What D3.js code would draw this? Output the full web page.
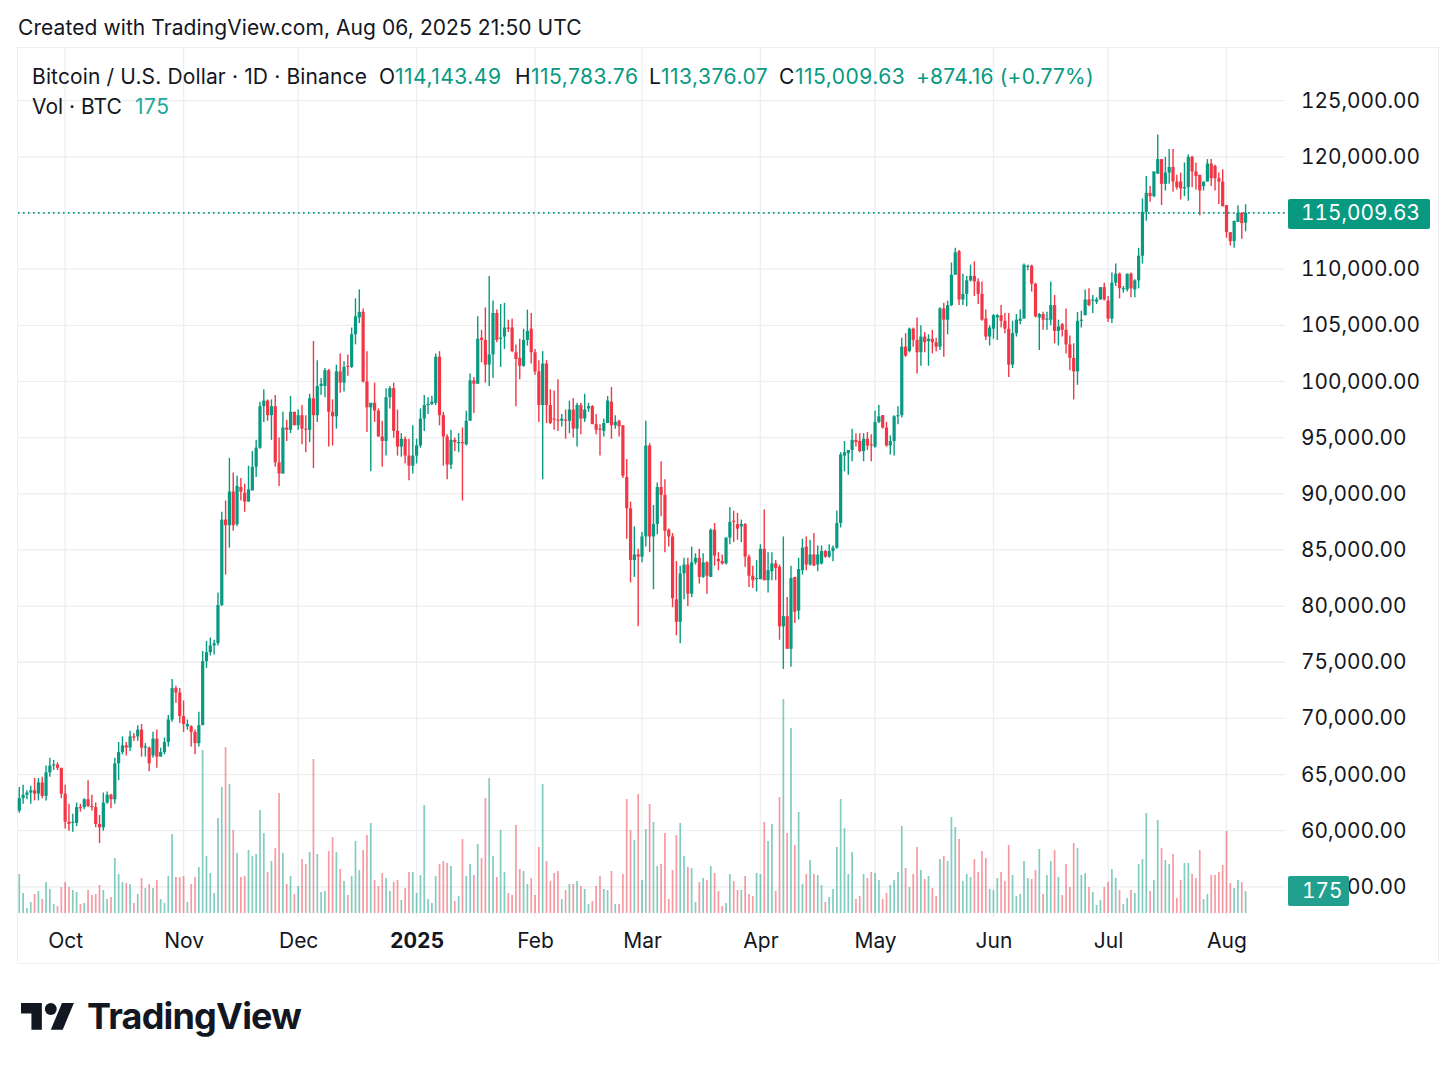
<!DOCTYPE html>
<html><head><meta charset="utf-8">
<style>html,body{margin:0;padding:0;background:#fff}svg{display:block}text{font-family:Inter,"Noto Sans",sans-serif;fill:#131722}</style>
<script src="https://cdn.jsdelivr.net/npm/d3@7/dist/d3.min.js"></script>
</head><body><svg id="c" width="1456" height="1070"></svg>
<script>
const startDate = "2024-09-19";
const endDate = "2025-08-06";
// open, high, low, close in thousands of USD, one row per day from startDate
const candles = [
[61.8,63.9,61.6,62.9],[62.9,64.1,62.4,63.2],[63.2,63.6,62.8,63.4],[63.4,64.0,62.4,63.6],[63.6,64.7,62.7,63.3],[63.3,64.7,62.7,64.3],[64.3,64.8,62.9,63.1],[63.1,65.8,62.7,65.2],[65.2,66.5,64.8,65.8],[65.8,66.3,65.4,65.9],
[65.9,66.1,65.4,65.6],[65.6,65.6,62.9,63.3],[63.3,64.1,60.2,60.8],[60.8,62.4,60.0,60.6],[60.7,61.5,59.9,60.8],[60.7,62.5,60.4,62.1],[62.1,62.4,61.7,62.0],[62.1,62.9,61.9,62.8],[62.8,64.5,62.1,62.2],[62.2,63.2,61.8,62.1],
[62.1,62.5,60.3,60.6],[60.6,61.4,58.9,60.3],[60.3,63.4,60.0,62.5],[62.5,63.5,62.4,63.2],[63.2,63.3,62.0,62.8],[62.8,66.5,62.4,66.0],[66.0,67.9,64.5,67.0],[67.0,68.4,66.8,67.6],[67.6,67.9,66.7,67.4],[67.4,68.9,67.1,68.4],
[68.4,68.7,68.0,68.3],[68.4,69.4,68.0,69.0],[69.0,69.5,66.6,67.4],[67.4,67.8,66.6,67.5],[67.4,67.5,65.3,66.0],[66.7,68.8,66.5,68.2],[68.2,69.0,65.6,66.6],[66.6,67.4,66.6,67.0],[67.0,68.3,66.8,67.9],[67.9,70.3,67.5,69.9],
[69.9,73.5,69.7,72.7],[72.7,72.9,71.4,72.3],[72.3,72.7,69.6,70.2],[70.2,71.6,68.8,69.5],[69.3,69.9,69.0,69.5],[69.3,69.4,67.5,68.8],[68.8,69.0,66.8,67.8],[67.8,70.6,67.5,69.4],[69.4,76.0,69.4,75.1],[75.1,76.9,74.5,75.9],
[75.9,77.2,75.6,76.5],[76.5,77.0,75.7,76.7],[76.7,81.2,76.5,80.1],[80.1,88.4,80.0,87.7],[87.7,89.4,82.8,87.2],[87.2,93.2,85.2,90.2],[90.2,91.9,86.7,87.2],[87.3,91.6,87.1,90.7],[90.6,91.4,89.4,90.2],[90.1,90.9,88.4,89.3],
[89.3,92.5,89.3,90.4],[90.3,93.8,90.3,92.4],[92.4,94.8,91.5,94.1],[94.1,98.2,94.0,97.8],[97.8,99.3,96.4,98.3],[98.3,98.4,96.5,97.0],[97.0,98.4,94.8,97.8],[97.8,98.8,92.4,92.8],[92.8,95.0,90.7,91.8],[91.8,97.3,91.8,95.9],
[95.9,96.6,94.7,95.7],[95.7,98.7,95.4,97.3],[97.3,97.3,96.1,96.1],[96.1,97.5,95.7,97.0],[97.0,97.9,94.4,95.8],[95.8,97.0,93.7,95.7],[95.7,98.9,94.6,98.5],[98.5,103.6,92.3,97.0],[97.0,101.9,96.4,99.6],[99.6,100.3,98.8,99.8],
[99.6,101.2,98.6,101.0],[101.0,101.1,94.2,97.3],[97.3,98.4,94.3,96.9],[96.9,101.5,95.8,100.9],[100.9,102.5,99.0,99.9],[99.9,101.8,99.1,101.3],[101.4,102.4,100.5,101.3],[101.3,104.8,101.2,104.2],[104.2,107.4,103.3,105.8],[105.7,108.2,105.2,106.2],
[106.2,106.5,99.9,100.0],[100.0,102.7,95.5,97.7],[97.7,98.1,92.0,98.1],[98.1,99.9,96.4,97.4],[97.4,97.6,95.1,95.1],[95.1,96.5,92.4,94.7],[94.7,99.4,93.4,98.6],[98.6,99.6,97.6,99.4],[99.4,99.9,95.0,95.6],[95.6,97.5,93.4,94.2],
[94.2,95.4,93.3,94.9],[94.9,95.1,92.7,93.4],[93.4,94.9,91.2,92.5],[92.5,96.1,91.8,93.4],[93.4,94.9,92.7,94.3],[94.3,97.6,94.1,96.7],[96.7,98.8,95.6,97.9],[97.9,98.6,97.1,98.0],[98.0,98.7,97.9,98.2],[98.1,102.5,97.9,102.2],
[102.2,102.7,96.1,97.0],[97.0,97.3,92.5,95.1],[95.1,95.3,91.3,92.6],[92.6,95.7,92.2,94.8],[94.8,95.0,93.8,94.6],[94.5,95.4,93.7,94.6],[94.6,95.9,89.4,94.5],[94.4,97.4,94.3,96.5],[96.5,100.7,96.5,100.1],[100.1,100.4,97.2,99.8],
[99.8,105.8,99.8,103.8],[103.9,104.6,101.7,103.7],[103.7,106.6,99.9,101.5],[101.5,109.4,99.6,102.4],[102.4,107.2,100.3,106.1],[106.1,106.4,103.5,103.7],[103.8,106.9,101.3,103.9],[104.0,107.0,102.9,104.8],[104.8,105.5,104.4,104.7],[104.8,105.6,102.6,102.7],
[102.6,103.3,97.8,102.0],[102.1,103.8,100.2,101.4],[101.4,104.7,101.3,103.7],[103.7,106.4,103.2,104.5],[104.7,106.1,101.6,102.6],[102.6,102.9,100.6,100.9],[100.9,101.9,96.4,97.9],[97.9,102.7,91.3,101.6],[101.6,101.9,96.3,97.9],[97.9,99.3,96.2,96.3],
[96.7,99.2,95.7,96.6],[96.6,100.2,95.6,96.5],[96.5,97.1,96.0,96.7],[96.6,97.5,94.9,96.5],[96.5,98.3,95.4,97.5],[97.5,98.5,95.0,95.8],[95.8,98.1,94.2,97.9],[97.9,98.1,95.3,96.7],[96.7,98.9,96.4,97.5],[97.6,98.1,97.3,97.8],
[97.8,97.9,96.2,96.2],[96.2,97.1,95.3,95.7],[95.8,96.2,93.4,95.7],[95.6,96.7,95.1,96.3],[96.3,98.7,96.3,98.3],[98.2,99.5,94.9,96.1],[96.1,97.0,95.8,96.4],[96.5,96.6,95.1,96.0],[96.1,96.1,91.4,91.6],[91.5,93.1,86.0,88.7],
[88.7,89.3,82.1,84.1],[84.1,87.1,82.6,84.6],[84.6,85.1,78.2,84.4],[84.4,86.6,83.9,86.2],[86.2,96.5,85.3,94.3],[94.3,94.5,84.8,86.2],[86.2,89.0,81.5,87.3],[87.3,91.0,86.4,90.6],[90.6,92.9,88.0,89.9],[89.9,91.3,84.8,86.7],
[86.8,86.9,85.3,86.2],[86.2,86.5,79.9,80.7],[80.6,84.0,77.4,78.6],[78.6,83.6,76.7,82.9],[82.9,84.3,80.6,83.7],[83.7,84.3,80.0,81.1],[81.1,85.3,80.8,83.9],[83.9,84.7,83.7,84.3],[84.3,85.1,82.0,82.6],[82.6,84.7,82.5,83.9],
[83.9,84.0,81.1,82.7],[82.6,86.9,82.6,86.8],[86.8,87.4,83.6,84.5],[84.2,84.8,83.2,84.0],[84.0,84.6,83.7,83.8],[83.8,86.1,83.7,86.1],[86.1,88.8,85.5,87.5],[87.6,88.5,85.7,87.5],[87.3,88.3,85.9,86.9],[87.1,87.7,85.7,87.3],
[87.3,87.4,83.5,84.4],[84.4,84.6,81.7,82.7],[82.7,83.6,81.6,82.3],[82.4,84.1,81.3,82.5],[82.4,85.5,82.4,85.1],[85.1,88.6,82.3,82.3],[82.3,84.8,81.2,83.2],[83.1,84.8,82.3,83.8],[83.8,84.1,82.3,83.4],[83.5,83.7,77.0,78.2],
[78.2,86.2,74.4,79.1],[79.1,80.8,76.2,76.2],[76.2,83.6,74.6,82.5],[82.6,82.6,78.5,79.5],[79.6,84.3,78.8,83.3],[83.2,86.0,82.8,85.2],[85.3,86.2,83.2,83.7],[83.7,85.9,83.6,84.6],[84.6,86.5,83.6,83.6],[83.7,85.4,83.1,84.6],
[83.8,85.4,83.7,84.9],[84.9,85.0,84.3,84.4],[84.4,85.5,84.3,84.9],[84.9,85.4,84.0,85.2],[85.2,88.5,85.1,87.4],[87.4,93.7,87.0,93.5],[93.4,94.7,92.0,93.7],[93.6,93.9,91.7,93.9],[93.9,95.8,92.9,94.8],[94.8,95.4,94.2,94.6],
[94.7,95.4,93.7,93.8],[93.8,95.4,92.9,94.9],[94.9,95.5,93.9,94.3],[94.4,95.3,92.9,94.3],[94.2,97.4,94.1,96.4],[96.4,97.9,96.3,96.9],[97.0,97.0,95.8,95.9],[95.9,96.4,94.2,94.3],[94.3,95.2,93.5,94.7],[94.7,97.0,93.4,96.9],
[96.9,97.8,96.2,97.0],[97.0,103.9,96.8,103.1],[103.1,104.3,102.2,102.3],[102.7,104.8,102.6,104.7],[104.7,104.8,103.1,103.7],[103.7,105.7,100.7,102.6],[102.6,105.0,101.4,104.0],[104.0,104.4,102.6,103.5],[103.6,104.2,101.4,103.8],[103.8,104.6,102.5,103.5],
[103.5,103.9,102.7,103.1],[103.1,106.6,102.8,106.5],[106.5,107.0,102.2,105.5],[105.5,107.2,104.2,106.8],[106.8,110.6,106.7,109.5],[109.5,111.9,109.5,111.5],[111.6,111.7,106.8,107.3],[107.3,109.6,106.8,107.8],[107.8,109.4,106.7,109.0],[109.0,110.4,108.9,109.4],
[109.4,110.7,107.6,108.9],[108.9,109.2,106.9,107.8],[107.8,108.9,105.4,105.5],[105.6,106.4,103.7,104.0],[104.0,105.0,103.2,104.8],[104.7,106.0,103.8,105.9],[105.7,106.0,103.7,105.9],[105.9,106.8,104.8,105.4],[105.4,106.1,104.3,104.7],[104.7,106.1,100.4,101.5],
[101.5,105.4,101.2,104.3],[104.3,106.0,104.0,105.5],[105.4,106.4,105.1,105.6],[105.6,110.5,105.6,110.4],[110.2,110.4,109.9,110.3],[110.3,110.4,108.0,108.7],[108.7,108.8,105.7,105.8],[105.7,106.1,102.8,106.0],[106.0,106.2,104.6,105.5],[105.5,106.2,104.6,105.6],
[105.5,108.9,105.0,106.8],[106.8,107.7,103.4,104.5],[104.5,105.5,103.2,104.9],[105.1,105.2,104.0,104.6],[104.6,106.5,102.5,103.3],[103.3,104.1,101.0,102.1],[102.1,103.4,98.4,100.9],[100.9,106.2,99.7,105.4],[105.4,106.3,104.8,105.5],[105.9,108.2,105.9,107.3],
[107.3,108.3,106.7,106.8],[107.2,107.7,106.1,107.3],[107.1,107.5,106.9,107.3],[107.3,108.4,107.3,108.4],[108.4,108.8,107.2,107.3],[107.2,107.6,105.3,105.6],[105.6,109.7,105.2,108.8],[108.8,110.5,108.5,109.6],[109.6,109.7,107.4,108.3],[108.2,108.5,107.9,108.3],
[108.2,109.6,108.0,109.6],[109.6,109.7,107.5,108.3],[108.2,109.1,107.5,109.0],[109.0,111.9,108.3,111.2],[111.2,116.3,110.5,115.1],[115.1,118.3,114.3,116.8],[116.8,117.4,116.0,116.5],[116.5,118.7,116.4,118.7],[118.5,122.0,118.5,119.8],[119.8,119.8,115.7,117.6],
[117.6,120.0,117.0,118.6],[118.6,120.7,117.6,119.1],[119.1,120.7,116.9,117.8],[117.8,118.4,117.1,117.3],[117.8,118.6,116.2,117.2],[117.2,119.5,116.5,117.3],[117.3,120.2,116.1,120.0],[120.0,120.1,117.3,118.7],[118.7,119.5,117.1,118.3],[118.4,118.4,114.8,117.0],
[117.4,117.8,117.0,117.8],[117.8,119.8,117.8,119.4],[119.4,119.8,117.4,118.1],[119.2,119.3,117.0,118.1],[118.1,118.6,115.8,117.8],[117.8,118.9,115.6,115.6],[115.7,115.7,112.8,113.3],[113.3,113.3,112.1,112.5],[112.5,114.3,111.9,114.3],[114.2,115.7,114.2,115.0],
[115.0,115.1,112.7,114.1],[114.14349,115.78376,113.37607,115.00963]
];
const volumes = [
312,160,40,88,152,176,112,248,192,72,56,208,248,208,184,168,72,80,184,144,
152,224,184,112,128,440,312,248,240,232,80,152,280,200,232,200,264,112,80,296,
632,288,288,296,88,232,288,368,1304,456,320,160,760,1008,1328,1032,664,480,288,296,
504,456,472,824,640,328,416,520,960,480,232,296,152,216,432,392,488,1232,472,168,
176,496,608,488,352,256,144,296,576,344,504,624,720,264,216,320,280,176,248,264,
104,200,328,328,160,304,864,112,80,296,392,416,400,376,96,136,592,296,392,304,
552,440,920,1080,456,288,664,328,160,144,704,352,336,232,280,144,528,1032,416,256,
320,336,112,184,232,232,256,216,192,72,96,216,296,192,184,336,72,72,312,912,
664,584,952,264,672,872,728,376,392,640,112,344,624,720,456,368,360,88,248,280,
264,376,320,176,56,80,312,256,184,184,296,152,136,320,312,728,576,712,176,928,
1712,640,1480,544,808,232,312,424,312,304,224,88,128,192,528,912,680,312,488,112,
136,312,280,328,320,264,112,160,224,264,328,696,360,208,312,528,344,272,296,200,
136,432,456,416,768,688,592,256,312,288,432,328,496,440,192,184,280,328,256,544,
304,136,152,416,280,272,344,512,152,304,416,504,288,144,392,208,560,520,304,320,
208,168,64,104,208,248,352,280,184,72,120,184,160,392,432,800,176,264,744,520,
424,392,472,120,264,400,400,312,280,504,112,152,304,304,328,384,656,240,200,264,248,175
];
const priceTicks = [125,120,115,110,105,100,95,90,85,80,75,70,65,60,55];
const monthTicks = ["2024-10-01","2024-11-01","2024-12-01","2025-01-01","2025-02-01","2025-03-01","2025-04-01","2025-05-01","2025-06-01","2025-07-01","2025-08-01"];
const monthLabels = ["Oct","Nov","Dec","2025","Feb","Mar","Apr","May","Jun","Jul","Aug"];
const lastPrice = 115.00963;
const headerLeft = "Bitcoin / U.S. Dollar · 1D · Binance";
const ohlcLetters = ["O","H","L","C"];
const ohlcValues = ["114,143.49","115,783.76","113,376.07","115,009.63"];
const changeText = "+874.16 (+0.77%)";
const volumeLabel = "175";

const UP="#089981", DOWN="#F23645", GRID="#eceef0", INK="#131722";
const FONT='Inter,"Noto Sans",sans-serif';
const TNUM="tabular-nums";
const svg=d3.select("#c");
const parse=d3.utcParse("%Y-%m-%d");
const start=parse(startDate);
const x=d3.scaleUtc().domain([start,parse(endDate)]).range([19.3,1245.6]);
const y=d3.scaleLinear().domain([125,60]).range([100.7,830.7]);
const vy=d3.scaleLinear().domain([0,1712]).range([913,699]);
const rows=candles.map((c,i)=>({date:d3.utcDay.offset(start,i),o:c[0],h:c[1],l:c[2],c:c[3],v:volumes[i],up:c[3]>=c[0]}));

// frame
svg.append("rect").attr("x",17.5).attr("y",47.5).attr("width",1421).attr("height",916).attr("fill","none").attr("stroke","#eeeff1");
svg.append("text").attr("x",18).attr("y",35).attr("font-size",21).attr("letter-spacing",0.08).text("Created with TradingView.com, Aug 06, 2025 21:50 UTC");

// grid
svg.append("g").selectAll("line").data(priceTicks).join("line")
  .attr("x1",18).attr("x2",1285).attr("y1",d=>y(d)).attr("y2",d=>y(d)).attr("stroke",GRID).attr("stroke-width",1.3);
svg.append("g").selectAll("line").data(monthTicks).join("line")
  .attr("x1",d=>x(parse(d))).attr("x2",d=>x(parse(d))).attr("y1",48).attr("y2",917).attr("stroke",GRID).attr("stroke-width",1.3);

// volume
svg.append("g").selectAll("rect").data(rows).join("rect")
  .attr("x",d=>x(d.date)-0.85).attr("width",1.7).attr("y",d=>vy(d.v)).attr("height",d=>vy(0)-vy(d.v))
  .attr("fill",d=>d.up?UP:DOWN).attr("opacity",0.5);

// last price line
svg.append("line").attr("x1",18).attr("x2",1285).attr("y1",y(lastPrice)).attr("y2",y(lastPrice))
  .attr("stroke",UP).attr("stroke-width",1.6).attr("stroke-dasharray","1.6 3.4");

// candles
const cg=svg.append("g");
cg.selectAll("line").data(rows).join("line")
  .attr("x1",d=>x(d.date)).attr("x2",d=>x(d.date)).attr("y1",d=>y(d.h)).attr("y2",d=>y(d.l))
  .attr("stroke",d=>d.up?UP:DOWN).attr("stroke-width",1.4);
cg.selectAll("rect").data(rows).join("rect")
  .attr("x",d=>x(d.date)-1.6).attr("width",3.2)
  .attr("y",d=>y(Math.max(d.o,d.c))).attr("height",d=>Math.max(1,Math.abs(y(d.o)-y(d.c))))
  .attr("fill",d=>d.up?UP:DOWN);

// axes
const ya=svg.append("g").attr("transform","translate(1301,-0.7)")
  .call(d3.axisRight(y).tickValues(priceTicks).tickSize(0).tickPadding(0).tickFormat(d=>d3.format(",.2f")(d*1000)));
ya.select(".domain").remove();
ya.selectAll("text").attr("font-size",20.8).attr("font-family",FONT).attr("fill",INK).attr("dy","0.35em").attr("x",0).style("font-variant-numeric",TNUM);
const xa=svg.append("g").attr("transform","translate(0,940.5)")
  .call(d3.axisBottom(x).tickValues(monthTicks.map(parse)).tickSize(0).tickPadding(0).tickFormat((d,i)=>monthLabels[i]));
xa.select(".domain").remove();
xa.selectAll("text").attr("font-size",21).attr("font-family",FONT).attr("fill",INK).attr("y",0).attr("dy","0.35em").style("font-variant-numeric",TNUM)
  .attr("font-weight",(d,i)=>monthLabels[i]==="2025"?700:400);

// header legend
svg.append("text").attr("x",32).attr("y",83.5).attr("font-size",21).attr("letter-spacing",0.14).text(headerLeft);
const letterX=[379,515,649,779], valueX=[395,531,661,795];
ohlcLetters.forEach((l,i)=>{
  svg.append("text").attr("x",letterX[i]).attr("y",83.5).attr("font-size",21).text(l);
  svg.append("text").attr("x",valueX[i]).attr("y",83.5).attr("font-size",21).attr("letter-spacing",0.5).style("fill",UP).text(ohlcValues[i]);
});
svg.append("text").attr("x",916).attr("y",83.5).attr("font-size",21).attr("letter-spacing",0.2).style("fill",UP).text(changeText);
svg.append("text").attr("x",32).attr("y",113.5).attr("font-size",21).text("Vol · BTC");
svg.append("text").attr("x",135).attr("y",113.5).attr("font-size",21).attr("letter-spacing",0.5).style("fill","#26a69a").text(volumeLabel);

// price badges
svg.append("rect").attr("x",1288).attr("y",199).attr("width",142).attr("height",30).attr("rx",2).attr("fill",UP);
svg.append("text").attr("x",1301).attr("y",y(lastPrice)).attr("dy","0.35em").attr("font-size",20.8).style("font-variant-numeric",TNUM).style("fill","#fff").text(d3.format(",.2f")(lastPrice*1000));
svg.append("rect").attr("x",1288).attr("y",876).attr("width",61).attr("height",30).attr("rx",2).attr("fill","#22a08f");
svg.append("text").attr("x",1302).attr("y",891).attr("dy","0.35em").attr("font-size",20.8).style("font-variant-numeric",TNUM).style("fill","#fff").text(volumeLabel);

// logo
const logo=svg.append("g").attr("transform","translate(21,997) scale(1.49)").attr("fill","#131722");
logo.append("path").attr("d","M14 22H7V11H0V4h14v18zM28 22h-8l7.5-18h8L28 22z");
logo.append("circle").attr("cx",20).attr("cy",8).attr("r",4);
svg.append("text").attr("x",87).attr("y",1029).attr("font-size",36).attr("font-weight",650).attr("letter-spacing",-0.8).text("TradingView");
</script></body></html>
